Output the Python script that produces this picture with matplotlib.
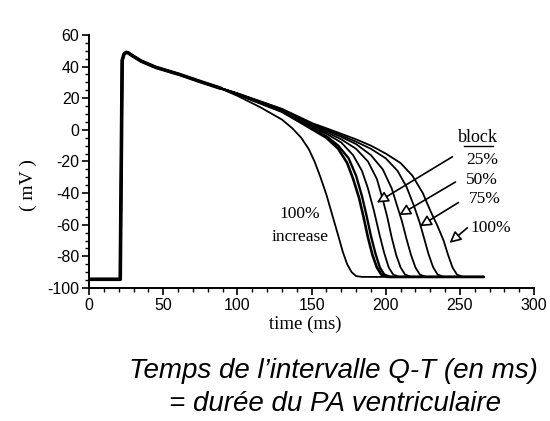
import matplotlib
matplotlib.use("Agg")
import matplotlib.pyplot as plt
from matplotlib.ticker import MultipleLocator

plt.rcParams["axes.unicode_minus"] = False

# ---- data ----
base_t = [0, 21, 22.3, 23.5, 25, 26.5, 29, 35, 45, 61, 75, 88]
base_v = [-94.5, -94.5, 44, 47.8, 49, 48.6, 47, 43.5, 39.5, 35, 30.5, 26.5]

inc_t = [100, 115, 130, 137, 143, 148, 152, 156, 160, 164, 168, 171, 174, 177, 180, 184, 266]
inc_v = [21.5, 14.5, 6.5, 1, -5, -12, -20, -30, -41, -54, -67, -77, -85, -90, -92.5, -93, -93]

c1_t = [100, 115, 130, 142, 151, 160, 168, 174, 178, 182, 185, 188, 191, 194, 197, 201, 266]
c1_v = [22.5, 17, 11.5, 5, 0, -5, -12, -21, -31, -43, -55, -68, -79, -87, -91.5, -93, -93]

c2_t = [100, 115, 130, 142, 151, 160, 168, 175, 180, 184, 187, 190, 193, 196, 199, 203, 266]
c2_v = [22.6, 17.2, 11.8, 5.5, 0.8, -4, -10, -18, -29, -42, -54, -67, -78, -87, -91.5, -93, -93]

c3_t = [100, 115, 130, 142, 151, 160, 170, 178, 184, 188, 192, 196, 199, 202, 205, 209, 266]
c3_v = [22.7, 17.4, 12.2, 6, 1.5, -2.5, -8, -16, -26, -37, -51, -67, -78, -87, -91.5, -93, -93]

b25_t = [100, 115, 130, 142, 151, 160, 170, 180, 188, 194, 198, 201, 204, 207, 210, 213, 217, 266]
b25_v = [22.8, 17.6, 12.5, 6.5, 2.5, -1.5, -6, -12, -20, -31, -44, -55, -68, -79, -87, -91.5, -93, -93]

b50_t = [100, 115, 130, 142, 151, 160, 170, 180, 190, 198, 204, 208, 211, 214, 217, 220, 223, 227, 266]
b50_v = [22.9, 17.8, 12.8, 7, 3, -0.5, -4.5, -9, -16, -25, -37, -49, -58, -69, -79, -87, -91.5, -93, -93]

b75_t = [100, 115, 130, 142, 151, 160, 170, 180, 190, 200, 208, 214, 219, 223, 226, 229, 232, 235, 239, 266]
b75_v = [23, 18, 13, 7.5, 3.5, 0.3, -3.5, -7.5, -12, -18, -26, -36, -48, -59, -69, -79, -87, -91.5, -93, -93]

b100_t = [100, 115, 130, 142, 151, 160, 170, 180, 190, 200, 210, 218, 225, 230, 235, 239, 242, 245, 248, 252, 266]
b100_v = [23.1, 18.2, 13.3, 8, 4, 1, -2.5, -6, -10, -15, -21, -29, -40, -51, -61, -70, -79, -87, -91.5, -93, -93]

x_ticks = [0, 50, 100, 150, 200, 250, 300]
y_ticks = [60, 40, 20, 0, -20, -40, -60, -80, -100]

block_labels = ["25%", "50%", "75%", "100%"]
label_pos = [(265, -19), (265, -31.5), (267, -44), (271, -62)]
arrow_tail = [(245, -17), (247, -33), (249, -46), (255, -62)]
arrow_tip = [(194, -46), (209, -54), (223, -61), (243, -71.5)]

# ---- figure ----
fig = plt.figure(figsize=(5.5, 4.21), dpi=100)
fig.patch.set_facecolor("white")
ax = fig.add_axes([0.162, 0.316, 0.809, 0.601])

serif = ["Liberation Serif", "DejaVu Serif"]
sans = ["Liberation Sans", "DejaVu Sans"]

curves = [(inc_t, inc_v, 1.3), (c1_t, c1_v, 1.9), (c2_t, c2_v, 1.7),
          (c3_t, c3_v, 1.3), (b25_t, b25_v, 1.3), (b50_t, b50_v, 1.3),
          (b75_t, b75_v, 1.3), (b100_t, b100_v, 1.3)]
for t, v, lw in curves:
    ax.plot(base_t + t, base_v + v, color="black", lw=lw,
            solid_joinstyle="round", solid_capstyle="round")
# thicker common part (upstroke and plateau)
ax.plot(base_t, base_v, color="black", lw=2.6, solid_joinstyle="round")

ax.set_xlim(0, 300)
ax.set_ylim(-100, 60)
for s in ["top", "right"]:
    ax.spines[s].set_visible(False)
for s in ["left", "bottom"]:
    ax.spines[s].set_linewidth(1.4)
ax.set_xticks(x_ticks)
ax.set_yticks(y_ticks)
ax.xaxis.set_minor_locator(MultipleLocator(10))
ax.yaxis.set_minor_locator(MultipleLocator(5))
ax.tick_params(which="major", direction="out", length=5, width=1.2,
               labelsize=11.5, pad=2)
ax.tick_params(which="minor", direction="out", length=3, width=1.0)
for lab in ax.get_xticklabels() + ax.get_yticklabels():
    lab.set_family(sans)

# annotations
fs = 12.5
ax.text(262, -5, "block", family=serif, fontsize=13, ha="center", va="center")
ax.plot([252.5, 272], [-10, -10], color="black", lw=1.0)
for lab, (lx, ly), (tx, ty), (hx, hy) in zip(block_labels, label_pos, arrow_tail, arrow_tip):
    ax.text(lx, ly, lab, family=serif, fontsize=fs, ha="center", va="center")
    ax.annotate("", xy=(hx, hy), xytext=(tx, ty),
                arrowprops=dict(arrowstyle="-|>", fc="white", ec="black",
                                lw=1.2, mutation_scale=17, shrinkA=0, shrinkB=0))
ax.text(142, -53.5, "100%", family=serif, fontsize=fs, ha="center", va="center")
ax.text(142, -67.5, "increase", family=serif, fontsize=fs, ha="center", va="center")

fig.text(28 / 550, 1 - 185 / 421, "( mV )", family=serif, fontsize=14,
         rotation=90, ha="center", va="center")
fig.text(305 / 550, 1 - 324 / 421, "time (ms)", family=serif, fontsize=13.5,
         ha="center", va="center")

fig.text(333 / 550, 1 - 371 / 421, "Temps de l\u2019intervalle Q-T (en ms)",
         family=sans, style="italic", fontsize=20, ha="center", va="center")
fig.text(335 / 550, 1 - 404 / 421, "= dur\u00e9e du PA ventriculaire",
         family=sans, style="italic", fontsize=20, ha="center", va="center")

fig.savefig("out.png", dpi=100, facecolor="white")
